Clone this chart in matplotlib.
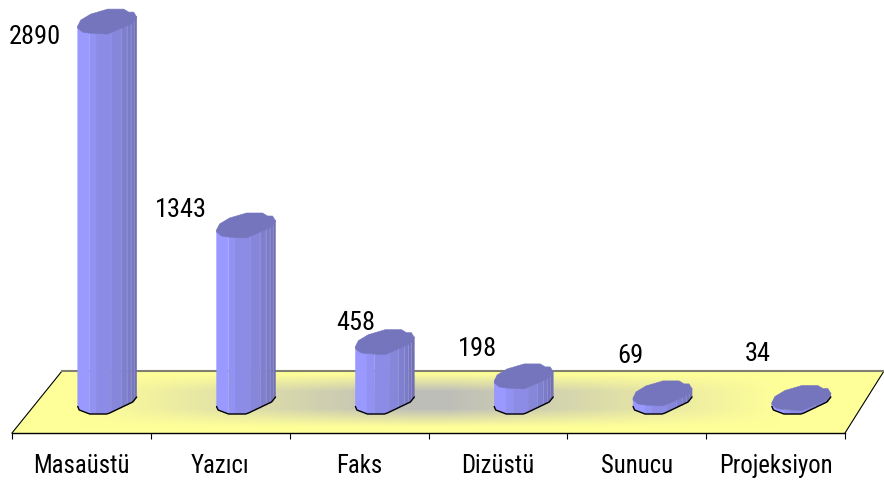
import numpy as np
import matplotlib
matplotlib.use("Agg")
import matplotlib.pyplot as plt
from matplotlib.patches import Polygon
import matplotlib.font_manager as fm

categories = ["Masaüstü", "Yazıcı", "Faks", "Dizüstü", "Sunucu", "Projeksiyon"]
values = [2890, 1343, 458, 198, 69, 34]

# ---- layout / style constants (pixels of the 884x480 canvas) ----
W, H = 884, 480
AX_L, AX_R = 12, 845
BASE_Y = 408          # pixel row of value 0 at the bar's left rim
PX_PER_VALUE = 0.1318
FLOOR_FRONT_Y, FLOOR_BACK_Y = 433, 371
FLOOR_SKEW_L, FLOOR_SKEW_R = 50, 39
BAR_LEFT = -3.7       # bar left edge relative to category centre, px
label_offsets = [(-47, -10), (-39, 21), (-3, 25), (-20, 33), (-6, 43), (-18, 50)]

installed = {f.name for f in fm.fontManager.ttflist}
FONT = [n for n in ("Roboto Condensed", "Archivo Narrow") if n in installed] + ["Liberation Sans"]
FSIZE = 19 if len(FONT) > 1 else 16.5
CAT_FSIZE = 17.8 if len(FONT) > 1 else 16

top_outline = [(0, -1), (3, -7), (13, -13), (30, -18), (46, -18), (51, -15), (56, -15),
               (59, -10), (55, -4), (30, 7), (11, 6), (5, 5), (0, 1)]
front_dx = [0, 1.5, 12, 29, 32, 55, 59]
front_dy = [-1.5, 2, 6, 6, 5, -6, -11]
strip_edges = [0, 12, 19, 34, 43, 49, 53, 56, 59]
strip_cols = ["#9999FF", "#9292F2", "#8C8CE6", "#8686DA", "#7F7FD0", "#7B7BC8", "#7676BE", "#7070B2"]
TOP_COL = "#7575BE"
SEAM_COL = "#A5A5E8"

fig = plt.figure(figsize=(W / 100, H / 100), dpi=100)
ax = fig.add_axes([0, 0, 1, 1])
px_x = (AX_R - AX_L) / len(categories)
ax.patch.set_visible(False)
for s in ("top", "left", "right"):
    ax.spines[s].set_visible(False)


def dx(p):
    return p / px_x


def vy(py):
    return (BASE_Y - py) / PX_PER_VALUE


def cx(p):
    return (p - AX_L) / px_x


# floor
floor_px = [(AX_L, FLOOR_FRONT_Y), (AX_R, FLOOR_FRONT_Y),
            (AX_R + FLOOR_SKEW_R, FLOOR_BACK_Y), (AX_L + FLOOR_SKEW_L, FLOOR_BACK_Y)]
floor_pts = [(cx(a), vy(b)) for a, b in floor_px]
clip = Polygon(floor_pts, closed=True, transform=ax.transData, fc="none", ec="none")
ax.add_patch(clip)
gx = np.linspace(0, W, 442)
gy = np.linspace(FLOOR_BACK_Y, FLOOR_FRONT_Y, 62)
GX, GY = np.meshgrid(gx, gy)
fx = np.clip((1 - np.abs(GX - 430) / 350) * 1.05, 0, 1)
fy = np.clip((1 - np.abs(GY - 400) / 27) * 1.5, 0, 1)
w = fx * fy
yellow = np.array([255, 255, 153]) / 255
gray = np.array([190, 190, 185]) / 255
img = yellow[None, None, :] * (1 - w[..., None]) + gray[None, None, :] * w[..., None]
im = ax.imshow(img, extent=(cx(0), cx(W), vy(FLOOR_FRONT_Y), vy(FLOOR_BACK_Y)),
               origin="upper", aspect="auto", interpolation="bilinear", zorder=1)
im.set_clip_path(clip)
ax.set_xlim(-AX_L / px_x, (W - AX_L) / px_x)
ax.set_ylim((BASE_Y - H) / PX_PER_VALUE, BASE_Y / PX_PER_VALUE)
ax.plot([floor_pts[0][0], floor_pts[3][0]], [floor_pts[0][1], floor_pts[3][1]],
        color="black", lw=0.8, zorder=2, clip_on=False)
ax.plot([floor_pts[1][0], floor_pts[2][0]], [floor_pts[1][1], floor_pts[2][1]],
        color="black", lw=0.8, zorder=2, clip_on=False)
ax.plot([floor_pts[3][0], floor_pts[2][0]], [floor_pts[3][1], floor_pts[2][1]],
        color="#808070", lw=1.5, zorder=2, clip_on=False)

# bars
for i, v in enumerate(values):
    x0 = i + 0.5 + dx(BAR_LEFT)

    def P(a, b, level):
        return (x0 + dx(a), level - b / PX_PER_VALUE)

    for k, col in enumerate(strip_cols):
        xs = np.linspace(strip_edges[k], strip_edges[k + 1], 6)
        ys = np.interp(xs, front_dx, front_dy)
        poly = [P(a, b, 0) for a, b in zip(xs, ys)] + [P(a, b, v) for a, b in zip(xs[::-1], ys[::-1])]
        ax.add_patch(Polygon(poly, closed=True, fc=col, ec=col, lw=0.3, zorder=3 + i))
    for e in strip_edges[4:-1]:
        yy = np.interp(e, front_dx, front_dy)
        a0, b0 = P(e, yy, 0), P(e, yy, v)
        ax.plot([a0[0], b0[0]], [a0[1], b0[1]], color=SEAM_COL, lw=0.5, alpha=0.6, zorder=3.2 + i)
    ax.add_patch(Polygon([P(a, b, v) for a, b in top_outline], closed=True,
                         fc=TOP_COL, ec=TOP_COL, lw=0.4, zorder=3.5 + i))
    fr = [P(a, b, 0) for a, b in zip(front_dx, front_dy)]
    ax.plot([p[0] for p in fr], [p[1] for p in fr], color="black", lw=1.0, zorder=3.6 + i,
            solid_capstyle="round")
    ax.annotate(str(v), xy=(i + 0.5, v), xytext=label_offsets[i], textcoords="offset pixels",
                ha="center", va="center", fontsize=FSIZE, family=FONT,
                color="black", zorder=20, annotation_clip=False)

# category axis
ax.spines["bottom"].set_position(("data", vy(FLOOR_FRONT_Y)))
ax.spines["bottom"].set_linewidth(1.0)
ax.spines["bottom"].set_zorder(2.5)
ax.spines["bottom"].set_bounds(0, len(categories))
ax.set_yticks([])
ax.set_xticks(np.arange(len(categories) + 1))
ax.set_xticklabels([])
ax.tick_params(axis="x", which="major", length=4.5, width=0.8)
ax.set_xticks(np.arange(len(categories)) + 0.5, minor=True)
ax.set_xticklabels(categories, minor=True, fontsize=CAT_FSIZE, family=FONT)
ax.tick_params(axis="x", which="minor", length=0, pad=15)

fig.savefig("out.png", dpi=100)
